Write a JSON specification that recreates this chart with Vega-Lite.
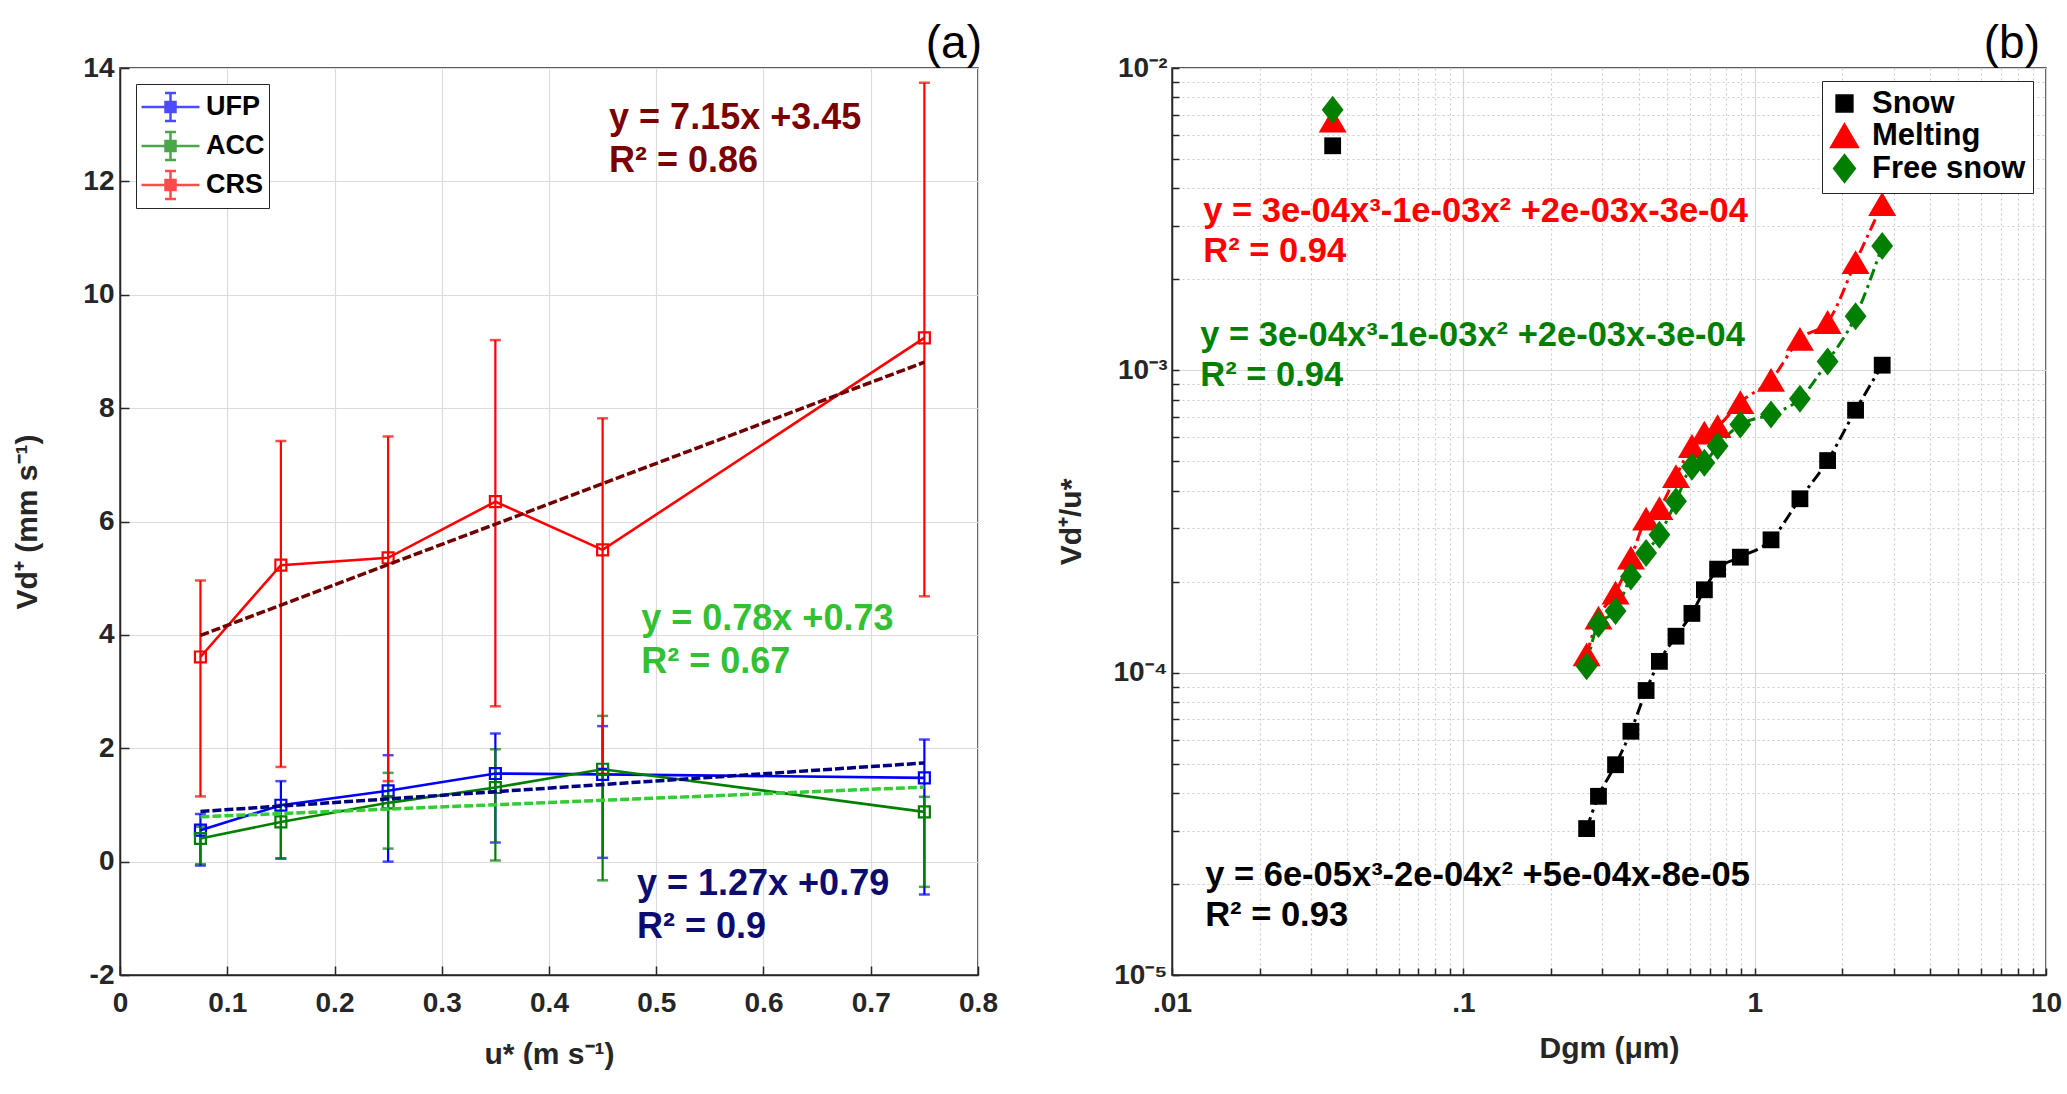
{
  "$schema": "https://vega.github.io/schema/vega-lite/v6.json",
  "background": "white",
  "padding": {"left": 12, "top": 20, "right": 5, "bottom": 5},
  "datasets": {
    "a": [
      {"series": "UFP", "x": 0.075, "y": 0.555, "lo": -0.07, "hi": 0.84},
      {"series": "UFP", "x": 0.15, "y": 0.995, "lo": 0.055, "hi": 1.42},
      {"series": "UFP", "x": 0.25, "y": 1.25, "lo": 0.0, "hi": 1.877},
      {"series": "UFP", "x": 0.35, "y": 1.554, "lo": 0.337, "hi": 2.26},
      {"series": "UFP", "x": 0.45, "y": 1.54, "lo": 0.067, "hi": 2.39},
      {"series": "UFP", "x": 0.75, "y": 1.478, "lo": -0.58, "hi": 2.154},
      {"series": "ACC", "x": 0.075, "y": 0.408, "lo": -0.045, "hi": 0.614},
      {"series": "ACC", "x": 0.15, "y": 0.7, "lo": 0.055, "hi": 1.0},
      {"series": "ACC", "x": 0.25, "y": 1.037, "lo": 0.23, "hi": 1.566},
      {"series": "ACC", "x": 0.35, "y": 1.307, "lo": 0.02, "hi": 1.983},
      {"series": "ACC", "x": 0.45, "y": 1.63, "lo": -0.33, "hi": 2.571},
      {"series": "ACC", "x": 0.75, "y": 0.878, "lo": -0.445, "hi": 1.143},
      {"series": "CRS", "x": 0.075, "y": 3.61, "lo": 1.15, "hi": 4.96},
      {"series": "CRS", "x": 0.15, "y": 5.23, "lo": 1.67, "hi": 7.42},
      {"series": "CRS", "x": 0.25, "y": 5.36, "lo": 1.42, "hi": 7.5},
      {"series": "CRS", "x": 0.35, "y": 6.35, "lo": 2.74, "hi": 9.2},
      {"series": "CRS", "x": 0.45, "y": 5.5, "lo": 1.55, "hi": 7.82},
      {"series": "CRS", "x": 0.75, "y": 9.24, "lo": 4.68, "hi": 13.74}
    ],
    "afit": [
      {"fit": "CRS fit", "x": 0.075, "y": 3.99},
      {"fit": "CRS fit", "x": 0.75, "y": 8.81},
      {"fit": "UFP fit", "x": 0.075, "y": 0.885},
      {"fit": "UFP fit", "x": 0.75, "y": 1.74},
      {"fit": "ACC fit", "x": 0.075, "y": 0.79},
      {"fit": "ACC fit", "x": 0.75, "y": 1.315}
    ],
    "b": [
      {"series": "Snow", "x": 0.0356, "y": 0.00553},
      {"series": "Snow", "x": 0.265, "y": 0.0000305},
      {"series": "Snow", "x": 0.291, "y": 0.000039},
      {"series": "Snow", "x": 0.333, "y": 0.0000496},
      {"series": "Snow", "x": 0.376, "y": 0.000064},
      {"series": "Snow", "x": 0.424, "y": 0.0000873},
      {"series": "Snow", "x": 0.471, "y": 0.000109},
      {"series": "Snow", "x": 0.537, "y": 0.000132},
      {"series": "Snow", "x": 0.609, "y": 0.000157},
      {"series": "Snow", "x": 0.672, "y": 0.000188},
      {"series": "Snow", "x": 0.746, "y": 0.00022},
      {"series": "Snow", "x": 0.893, "y": 0.000241},
      {"series": "Snow", "x": 1.138, "y": 0.000275},
      {"series": "Snow", "x": 1.43, "y": 0.000376},
      {"series": "Snow", "x": 1.78, "y": 0.000503},
      {"series": "Snow", "x": 2.22, "y": 0.000738},
      {"series": "Snow", "x": 2.74, "y": 0.00104},
      {"series": "Melting", "x": 0.0356, "y": 0.0067},
      {"series": "Melting", "x": 0.265, "y": 0.000115},
      {"series": "Melting", "x": 0.291, "y": 0.000152},
      {"series": "Melting", "x": 0.333, "y": 0.000184},
      {"series": "Melting", "x": 0.376, "y": 0.00024},
      {"series": "Melting", "x": 0.424, "y": 0.000323},
      {"series": "Melting", "x": 0.471, "y": 0.00035},
      {"series": "Melting", "x": 0.537, "y": 0.000447},
      {"series": "Melting", "x": 0.609, "y": 0.000562},
      {"series": "Melting", "x": 0.672, "y": 0.000622},
      {"series": "Melting", "x": 0.746, "y": 0.000654},
      {"series": "Melting", "x": 0.893, "y": 0.000785},
      {"series": "Melting", "x": 1.138, "y": 0.00093},
      {"series": "Melting", "x": 1.43, "y": 0.00127},
      {"series": "Melting", "x": 1.78, "y": 0.001445},
      {"series": "Melting", "x": 2.22, "y": 0.00228},
      {"series": "Melting", "x": 2.74, "y": 0.00355},
      {"series": "Free snow", "x": 0.0356, "y": 0.00727},
      {"series": "Free snow", "x": 0.265, "y": 0.000105},
      {"series": "Free snow", "x": 0.291, "y": 0.000145},
      {"series": "Free snow", "x": 0.333, "y": 0.00016},
      {"series": "Free snow", "x": 0.376, "y": 0.000208},
      {"series": "Free snow", "x": 0.424, "y": 0.000249},
      {"series": "Free snow", "x": 0.471, "y": 0.000286},
      {"series": "Free snow", "x": 0.537, "y": 0.000369},
      {"series": "Free snow", "x": 0.609, "y": 0.00048},
      {"series": "Free snow", "x": 0.672, "y": 0.000495},
      {"series": "Free snow", "x": 0.746, "y": 0.000562},
      {"series": "Free snow", "x": 0.893, "y": 0.000662},
      {"series": "Free snow", "x": 1.138, "y": 0.000715},
      {"series": "Free snow", "x": 1.43, "y": 0.000805},
      {"series": "Free snow", "x": 1.78, "y": 0.00107},
      {"series": "Free snow", "x": 2.22, "y": 0.00151},
      {"series": "Free snow", "x": 2.74, "y": 0.00258}
    ]
  },
  "hconcat": [
    {
      "width": 858,
      "height": 907,
      "title": {"text": "(a)", "anchor": "end", "frame": "group", "dx": 4, "fontSize": 46, "fontWeight": "normal", "font": "Liberation Sans", "offset": -14, "color": "#000"},
      "layer": [
        {
          "data": {"name": "a"},
          "mark": {"type": "errorbar", "thickness": 2.2, "ticks": {"size": 11, "thickness": 2.5}},
          "encoding": {
            "x": {"field": "x", "type": "quantitative", "scale": {"domain": [0, 0.8]},
              "axis": {"values": [0, 0.1, 0.2, 0.3, 0.4, 0.5, 0.6, 0.7, 0.8], "labelExpr": "'' + datum.value", "title": "u* (m s⁻¹)", "tickSize": -9, "labelPadding": 23, "titlePadding": 22, "grid": true}},
            "y": {"field": "hi", "type": "quantitative", "scale": {"domain": [-2, 14]},
              "axis": {"values": [-2, 0, 2, 4, 6, 8, 10, 12, 14], "labelExpr": "'' + datum.value", "title": "Vd⁺ (mm s⁻¹)", "tickSize": -9, "labelPadding": 15, "titlePadding": 40, "grid": true}},
            "y2": {"field": "lo"},
            "color": {"field": "series", "type": "nominal",
              "scale": {"domain": ["UFP", "ACC", "CRS"], "range": ["#0000ff", "#007f00", "#ff0000"]}}
          }
        },
        {
          "data": {"name": "a"},
          "mark": {"type": "line", "strokeWidth": 2.6},
          "encoding": {
            "x": {"field": "x", "type": "quantitative"},
            "y": {"field": "y", "type": "quantitative"},
            "color": {"field": "series", "type": "nominal"}
          }
        },
        {
          "data": {"name": "a"},
          "mark": {"type": "point", "shape": "square", "filled": false, "size": 120, "strokeWidth": 2.2, "opacity": 1},
          "encoding": {
            "x": {"field": "x", "type": "quantitative"},
            "y": {"field": "y", "type": "quantitative"},
            "color": {"field": "series", "type": "nominal",
              "legend": {"title": null, "orient": "top-left", "offset": 16, "padding": 4, "strokeColor": "#262626", "fillColor": "white",
                "symbolType": "M-1,0H0.371M0.943,0H2.314M0.371,-0.286H0.943V0.286H0.371ZM0.657,-0.286V-0.8M0.657,0.286V0.8M0.343,-0.8H0.971M0.343,0.8H0.971",
                "symbolSize": 1225, "symbolStrokeWidth": 2.5, "symbolFillColor": "transparent", "labelFontSize": 27, "labelFontWeight": "bold", "labelColor": "#000", "rowPadding": 1, "labelOffset": 28}}
          }
        },
        {
          "data": {"name": "afit"},
          "mark": {"type": "line", "strokeWidth": 3.5, "strokeDash": [9, 3]},
          "encoding": {
            "x": {"field": "x", "type": "quantitative"},
            "y": {"field": "y", "type": "quantitative"},
            "stroke": {"field": "fit", "type": "nominal", "legend": null,
              "scale": {"domain": ["CRS fit", "UFP fit", "ACC fit"], "range": ["#700000", "#000080", "#33cc33"]}}
          }
        },
        {
          "data": {"values": [{"label": ["y = 7.15x +3.45", "R² = 0.86"]}]},
          "mark": {"type": "text", "align": "left", "baseline": "middle", "fontSize": 36, "fontWeight": "bold", "font": "Liberation Sans", "lineHeight": 43, "color": "#7b0000"},
          "encoding": {"x": {"datum": 0.456, "type": "quantitative"}, "y": {"datum": 13.12, "type": "quantitative"}, "text": {"field": "label"}}
        },
        {
          "data": {"values": [{"label": ["y = 0.78x +0.73", "R² = 0.67"]}]},
          "mark": {"type": "text", "align": "left", "baseline": "middle", "fontSize": 36, "fontWeight": "bold", "font": "Liberation Sans", "lineHeight": 43, "color": "#33c033"},
          "encoding": {"x": {"datum": 0.486, "type": "quantitative"}, "y": {"datum": 4.28, "type": "quantitative"}, "text": {"field": "label"}}
        },
        {
          "data": {"values": [{"label": ["y = 1.27x +0.79", "R² = 0.9"]}]},
          "mark": {"type": "text", "align": "left", "baseline": "middle", "fontSize": 36, "fontWeight": "bold", "font": "Liberation Sans", "lineHeight": 43, "color": "#0b0b70"},
          "encoding": {"x": {"datum": 0.482, "type": "quantitative"}, "y": {"datum": -0.386, "type": "quantitative"}, "text": {"field": "label"}}
        }
      ]
    },
    {
      "width": 874,
      "height": 907,
      "title": {"text": "(b)", "anchor": "end", "frame": "group", "dx": -6, "fontSize": 46, "fontWeight": "normal", "font": "Liberation Sans", "offset": -14, "color": "#000"},
      "layer": [
        {
          "data": {"name": "b"},
          "transform": [{"filter": "datum.x > 0.1"}],
          "mark": {"type": "line", "strokeWidth": 3, "strokeDash": [12, 5, 3, 5], "interpolate": "monotone"},
          "encoding": {
            "x": {"field": "x", "type": "quantitative", "scale": {"type": "log", "domain": [0.01, 10]},
              "axis": {"values": [0.01, 0.02, 0.03, 0.04, 0.05, 0.06, 0.07, 0.08, 0.09, 0.1, 0.2, 0.3, 0.4, 0.5, 0.6, 0.7, 0.8, 0.9, 1, 2, 3, 4, 5, 6, 7, 8, 9, 10],
                "labelExpr": "datum.value == 0.01 ? '.01' : datum.value == 0.1 ? '.1' : datum.value == 1 ? '1' : datum.value == 10 ? '10' : ''",
                "title": "Dgm (μm)", "tickSize": -7, "labelPadding": 21, "titlePadding": 16, "grid": true,
                "gridDash": {"condition": {"test": "datum.value == 0.01 || datum.value == 0.1 || datum.value == 1 || datum.value == 10", "value": []}, "value": [2, 3]},
                "gridColor": {"condition": {"test": "datum.value == 0.01 || datum.value == 0.1 || datum.value == 1 || datum.value == 10", "value": "#d6d6d6"}, "value": "#cccccc"}}},
            "y": {"field": "y", "type": "quantitative", "scale": {"type": "log", "domain": [0.00001, 0.01]},
              "axis": {"values": [0.00001, 0.00002, 0.00003, 0.00004, 0.00005, 0.00006, 0.00007, 0.00008, 0.00009, 0.0001, 0.0002, 0.0003, 0.0004, 0.0005, 0.0006, 0.0007, 0.0008, 0.0009, 0.001, 0.002, 0.003, 0.004, 0.005, 0.006, 0.007, 0.008, 0.009, 0.01],
                "labelExpr": "datum.value == 0.01 ? '10⁻²' : datum.value == 0.001 ? '10⁻³' : datum.value == 0.0001 ? '10⁻⁴' : datum.value == 0.00001 ? '10⁻⁵' : ''",
                "title": "Vd⁺/u*", "tickSize": -7, "labelPadding": 12, "titlePadding": 27, "grid": true,
                "gridDash": {"condition": {"test": "datum.value == 0.01 || datum.value == 0.001 || datum.value == 0.0001 || datum.value == 0.00001", "value": []}, "value": [2, 3]},
                "gridColor": {"condition": {"test": "datum.value == 0.01 || datum.value == 0.001 || datum.value == 0.0001 || datum.value == 0.00001", "value": "#d6d6d6"}, "value": "#cccccc"}}},
            "color": {"field": "series", "type": "nominal",
              "scale": {"domain": ["Snow", "Melting", "Free snow"], "range": ["#000000", "#ff0000", "#007f00"]}}
          }
        },
        {
          "data": {"name": "b"},
          "mark": {"type": "point", "filled": true, "size": 784, "opacity": 1, "strokeWidth": 0},
          "encoding": {
            "x": {"field": "x", "type": "quantitative"},
            "y": {"field": "y", "type": "quantitative"},
            "color": {"field": "series", "type": "nominal",
              "legend": {"title": null, "orient": "top-right", "offset": 13, "padding": 7, "strokeColor": "#262626", "fillColor": "white", "symbolSize": 784, "labelFontSize": 31, "labelFontWeight": "bold", "labelColor": "#000", "rowPadding": 0, "labelOffset": 12}},
            "shape": {"field": "series", "type": "nominal",
              "scale": {"domain": ["Snow", "Melting", "Free snow"], "range": ["M-0.6,-0.6H0.6V0.6H-0.6Z", "M0,-0.85L1,0.85H-1Z", "M0,-1L0.78,0L0,1L-0.78,0Z"]},
              "legend": {"title": null, "orient": "top-right", "offset": 13, "padding": 7, "strokeColor": "#262626", "fillColor": "white", "symbolSize": 784, "labelFontSize": 31, "labelFontWeight": "bold", "labelColor": "#000", "rowPadding": 0, "labelOffset": 12}}
          }
        },
        {
          "data": {"values": [{"label": ["y = 3e-04x³-1e-03x² +2e-03x-3e-04", "R² = 0.94"]}]},
          "mark": {"type": "text", "align": "left", "baseline": "middle", "fontSize": 34.5, "fontWeight": "bold", "font": "Liberation Sans", "lineHeight": 40, "color": "#ff0000"},
          "encoding": {"x": {"datum": 0.0128, "type": "quantitative"}, "y": {"datum": 0.00335, "type": "quantitative"}, "text": {"field": "label"}}
        },
        {
          "data": {"values": [{"label": ["y = 3e-04x³-1e-03x² +2e-03x-3e-04", "R² = 0.94"]}]},
          "mark": {"type": "text", "align": "left", "baseline": "middle", "fontSize": 34.5, "fontWeight": "bold", "font": "Liberation Sans", "lineHeight": 40, "color": "#007f00"},
          "encoding": {"x": {"datum": 0.0125, "type": "quantitative"}, "y": {"datum": 0.0013, "type": "quantitative"}, "text": {"field": "label"}}
        },
        {
          "data": {"values": [{"label": ["y = 6e-05x³-2e-04x² +5e-04x-8e-05", "R² = 0.93"]}]},
          "mark": {"type": "text", "align": "left", "baseline": "middle", "fontSize": 34.5, "fontWeight": "bold", "font": "Liberation Sans", "lineHeight": 40, "color": "#000000"},
          "encoding": {"x": {"datum": 0.013, "type": "quantitative"}, "y": {"datum": 0.0000212, "type": "quantitative"}, "text": {"field": "label"}}
        }
      ]
    }
  ],
  "spacing": 56,
  "resolve": {"scale": {"color": "independent", "shape": "independent", "stroke": "independent"}, "legend": {"color": "independent", "shape": "independent"}},
  "config": {
    "font": "Liberation Sans",
    "view": {"stroke": "#262626", "strokeWidth": 1.5},
    "axis": {"labelFont": "Liberation Sans", "labelFontSize": 28, "labelFontWeight": "bold", "labelColor": "#262626", "titleFont": "Liberation Sans", "titleFontSize": 30, "titleFontWeight": "bold", "titleColor": "#262626", "domainColor": "#262626", "domainWidth": 1.5, "tickColor": "#262626", "tickWidth": 1.5, "gridColor": "#dcdcdc", "gridWidth": 1.2, "labelOverlap": false, "labelFlush": false},
    "legend": {"labelFont": "Liberation Sans", "labelFontWeight": "bold", "labelColor": "#000"}
  }
}
